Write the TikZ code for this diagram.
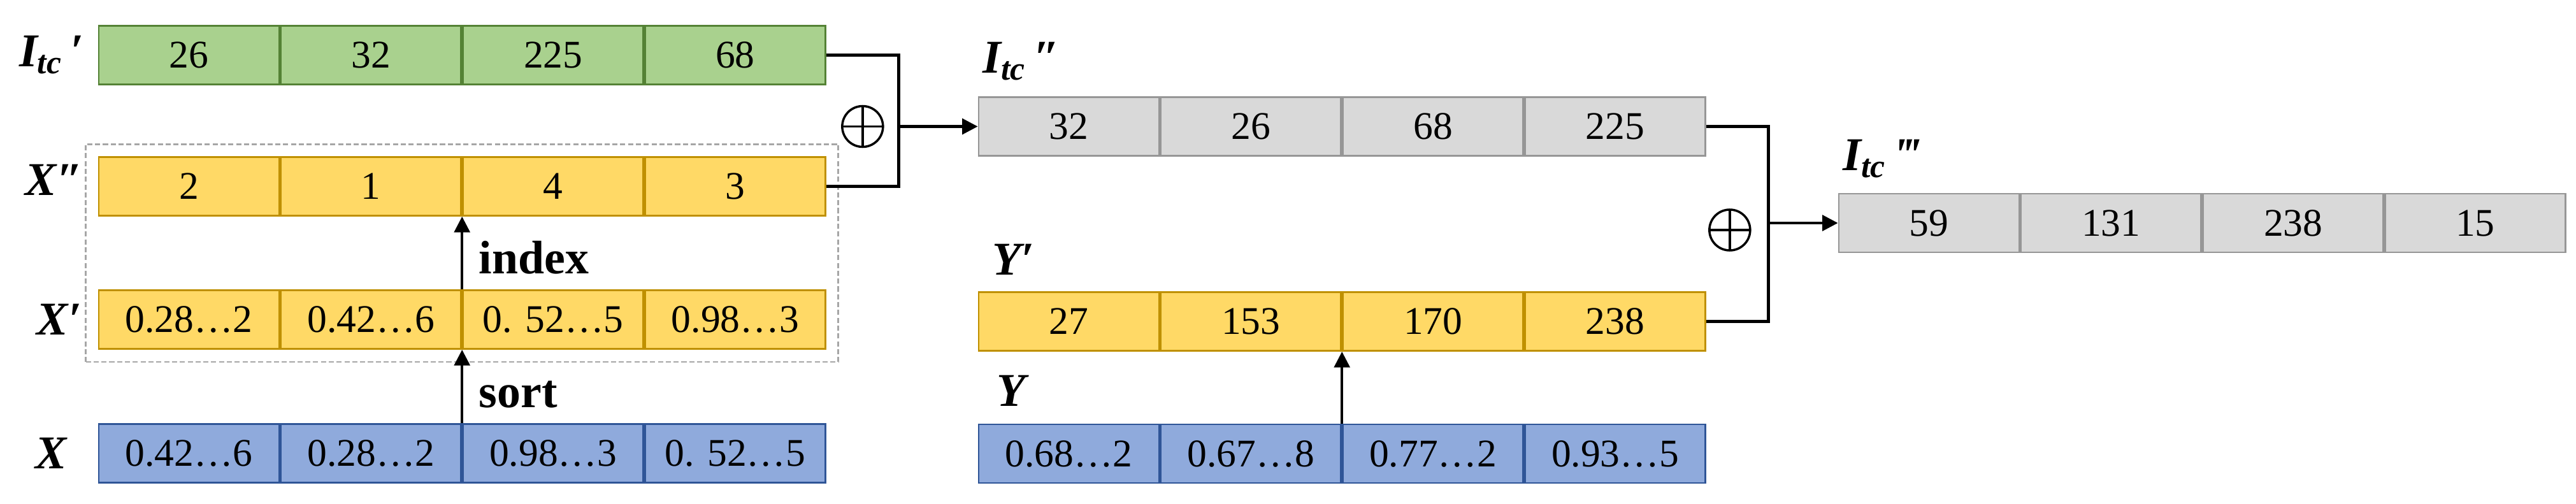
\documentclass[tikz,border=0pt]{standalone}
\usepackage{fontspec}
\setmainfont{Liberation Serif}
\usetikzlibrary{positioning,chains,fit,arrows.meta}
\definecolor{cellgreen}{RGB}{169,209,142}
\definecolor{edgegreen}{RGB}{84,130,53}
\definecolor{cellyellow}{RGB}{255,217,102}
\definecolor{edgeyellow}{RGB}{191,144,0}
\definecolor{cellblue}{RGB}{143,170,220}
\definecolor{edgeblue}{RGB}{47,85,151}
\definecolor{cellgray}{RGB}{217,217,217}
\definecolor{edgegray}{RGB}{150,150,150}
\newcommand{\Itc}[1]{I\textsubscript{tc}\,#1}

\begin{document}
\begin{tikzpicture}[
    cellbox/.style={draw,line width=0.8pt,minimum width=2.83cm,minimum height=0.92cm,
      inner sep=0pt,font=\fontsize{17.5}{20}\selectfont},
    greencell/.style={cellbox,fill=cellgreen,draw=edgegreen},
    yellowcell/.style={cellbox,fill=cellyellow,draw=edgeyellow},
    bluecell/.style={cellbox,fill=cellblue,draw=edgeblue},
    graycell/.style={cellbox,fill=cellgray,draw=edgegray},
    namelabel/.style={inner sep=0pt,font=\fontsize{21}{24}\selectfont\bfseries\itshape},
    opword/.style={inner sep=0pt,font=\fontsize{21}{24}\selectfont\bfseries},
    xorop/.style={circle,draw,line width=1pt,minimum size=0.64cm,inner sep=0pt,
      path picture={\draw[line width=1pt] (path picture bounding box.north) -- (path picture bounding box.south)
        (path picture bounding box.west) -- (path picture bounding box.east);}},
    conn/.style={line width=1.3pt},
    arr/.style={line width=1pt,-{Triangle[length=7pt,width=7pt]}},
    dashbox/.style={draw=gray!70,dash pattern=on 2.3pt off 1.2pt,line width=0.8pt,inner sep=0.19cm}
  ]
  \useasboundingbox (0,0) rectangle (40.43,-7.91);

  % the array I_tc'
  \begin{scope}[xshift=2.965cm,yshift=-0.865cm,start chain=going right,node distance=0pt]
  \foreach \v [count=\i] in {26,32,225,68}
    \node[greencell,on chain] (ta\i) {\v};
  \end{scope}

  % the array X''
  \begin{scope}[xshift=2.965cm,yshift=-2.925cm,start chain=going right,node distance=0pt]
  \foreach \v [count=\i] in {2,1,4,3}
    \node[yellowcell,on chain] (xpp\i) {\v};
  \end{scope}

  % the array X'
  \begin{scope}[xshift=2.965cm,yshift=-5.015cm,start chain=going right,node distance=0pt]
  \foreach \v [count=\i] in {0.28…2,0.42…6,0. 52…5,0.98…3}
    \node[yellowcell,on chain] (xp\i) {\v};
  \end{scope}

  % the array X
  \begin{scope}[xshift=2.965cm,yshift=-7.115cm,start chain=going right,node distance=0pt]
  \foreach \v [count=\i] in {0.42…6,0.28…2,0.98…3,0. 52…5}
    \node[bluecell,on chain] (x\i) {\v};
  \end{scope}

  % the array I_tc''
  \begin{scope}[xshift=16.775cm,yshift=-1.985cm,start chain=going right,node distance=0pt]
  \foreach \v [count=\i] in {32,26,68,225}
    \node[graycell,on chain] (tb\i) {\v};
  \end{scope}

  % the array Y'
  \begin{scope}[xshift=16.775cm,yshift=-5.045cm,start chain=going right,node distance=0pt]
  \foreach \v [count=\i] in {27,153,170,238}
    \node[yellowcell,on chain] (yp\i) {\v};
  \end{scope}

  % the array Y
  \begin{scope}[xshift=16.775cm,yshift=-7.12cm,start chain=going right,node distance=0pt]
  \foreach \v [count=\i] in {0.68…2,0.67…8,0.77…2,0.93…5}
    \node[bluecell,on chain] (y\i) {\v};
  \end{scope}

  % the array I_tc'''
  \begin{scope}[xshift=30.275cm,yshift=-3.5cm,start chain=going right,node distance=0pt]
  \foreach \v [count=\i] in {59,131,238,15}
    \node[graycell,on chain] (tc\i) {\v};
  \end{scope}

  % the group X'', X'
  \node[dashbox,fit=(xpp1) (xp4)] (grp) {};

  % the names
  \node[namelabel,left=0.22cm of ta1] (lta) {\Itc{′}};
  \node[namelabel,left=0.23cm of xpp1,yshift=0.1cm] (lxpp) {X″};
  \node[namelabel,left=0.25cm of xp1] (lxp) {X′};
  \node[namelabel,left=0.48cm of x1] (lx) {X};
  \node[namelabel,above right=0.24cm and 0.07cm of tb1.north west] (ltb) {\Itc{″}};
  \node[namelabel,above right=0.25cm and 0.22cm of yp1.north west] (lyp) {Y′};
  \node[namelabel,above right=0.26cm and 0.29cm of y1.north west] (ly) {Y};
  \node[namelabel,above right=0.23cm and 0.07cm of tc1.north west] (ltc) {\Itc{‴}};

  % sort and index
  \draw[arr] (x2.north east) -- node[opword,right=0.25cm,pos=0.39] (lsort) {sort} (xp2.south east);
  \draw[arr] (xp2.north east) -- node[opword,right=0.25cm,pos=0.44] (lidx) {index} (xpp2.south east);
  \draw[arr] (y2.north east) -- (yp2.south east);

  % the two xor steps
  \coordinate[left=1.24cm of tb1.west] (j1);
  \coordinate[left=1.09cm of tc1.west] (j2);
  \node[xorop,left=0.23cm of j1] (op1) {};
  \node[xorop,left=0.27cm of j2,yshift=-0.11cm] (op2) {};
  \draw[conn] (ta4.east) -| (j1) |- (xpp4.east);
  \draw[arr,line width=1.3pt] (j1) -- (tb1.west);
  \draw[conn] (tb4.east) -| (j2) |- (yp4.east);
  \draw[arr,line width=1.3pt] (j2) -- (tc1.west);
\end{tikzpicture}
\end{document}
